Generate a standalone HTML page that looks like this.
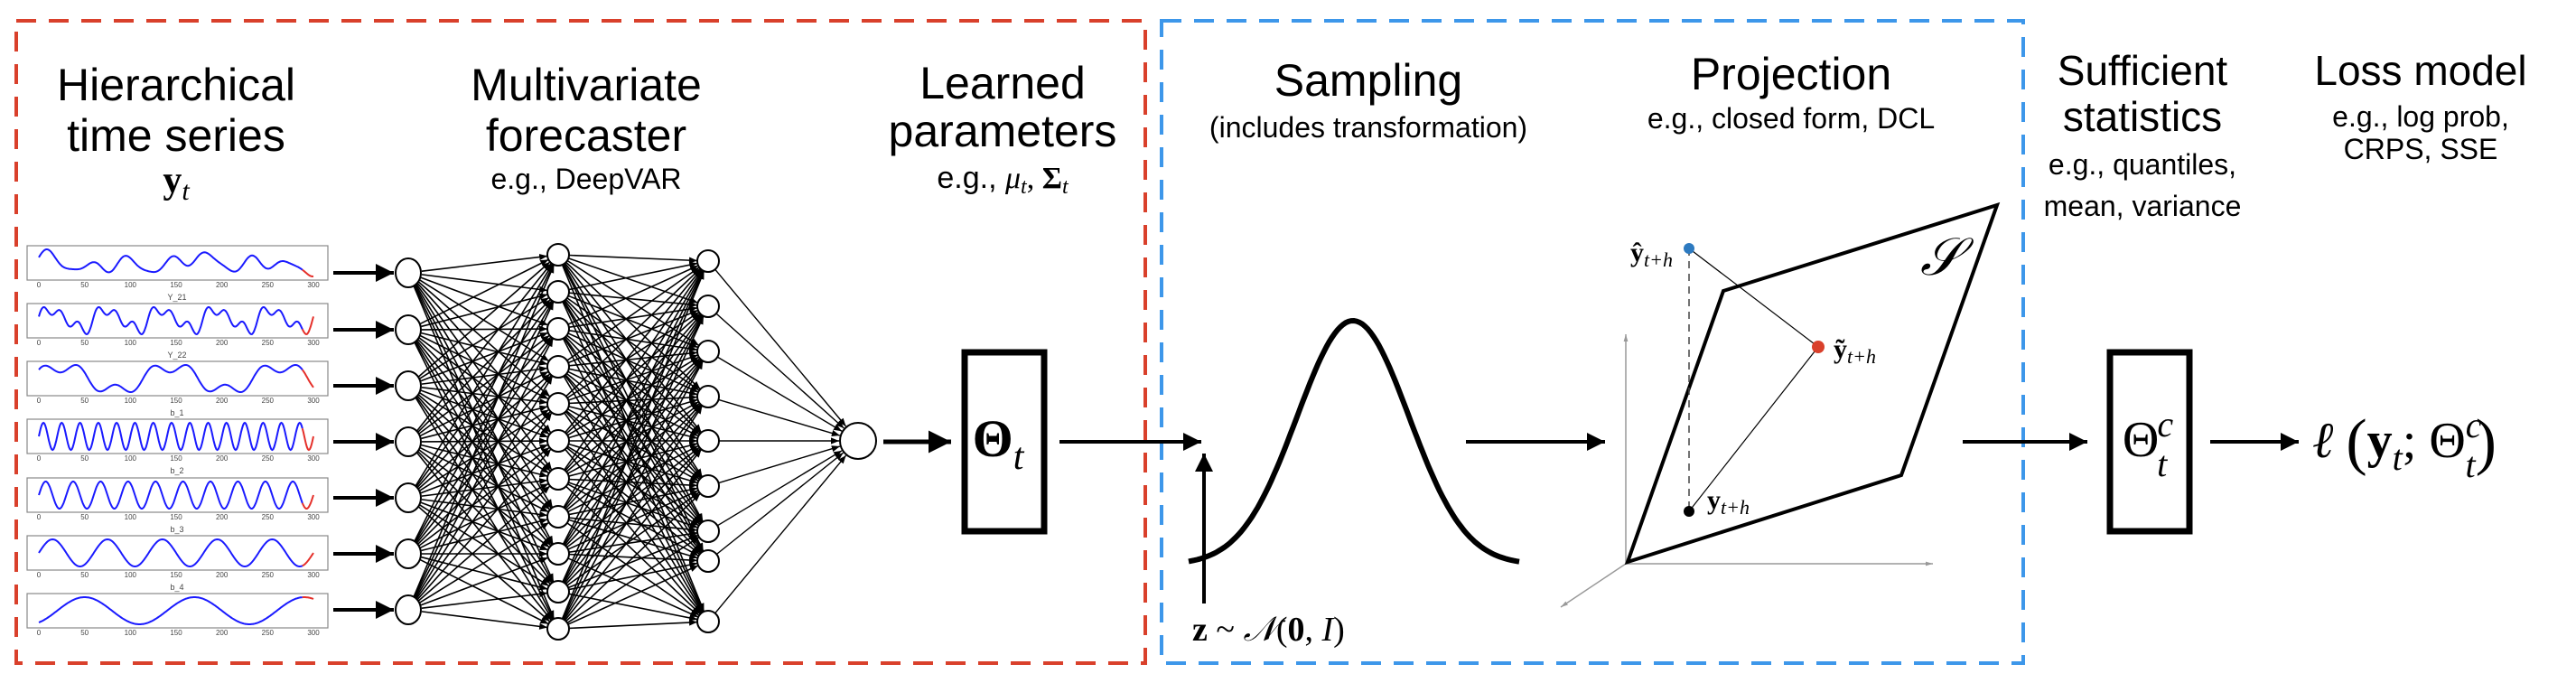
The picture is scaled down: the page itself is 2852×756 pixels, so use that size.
<!DOCTYPE html>
<html><head><meta charset="utf-8"><style>
html,body{margin:0;padding:0;background:#fff;}
svg{display:block;}
.s{font-family:"Liberation Sans",sans-serif;fill:#000;}
.m{font-family:"Liberation Serif",serif;fill:#000;}
</style></head><body>
<svg id="g" width="2852" height="756" viewBox="0 0 2852 756" xmlns="http://www.w3.org/2000/svg">
<defs>
<marker id="ah" viewBox="0 0 10 10" refX="10" refY="5" markerWidth="5" markerHeight="5" orient="auto" markerUnits="strokeWidth"><path d="M0,0 L10,5 L0,10 z" fill="#000"/></marker>
<marker id="as" viewBox="0 0 10 10" refX="10" refY="5" markerWidth="9" markerHeight="9" orient="auto" markerUnits="userSpaceOnUse"><path d="M0,1 L10,5 L0,9 z" fill="#000"/></marker>
<marker id="ag" viewBox="0 0 10 10" refX="10" refY="5" markerWidth="8" markerHeight="8" orient="auto" markerUnits="userSpaceOnUse"><path d="M0,2 L10,5 L0,8 z" fill="#999"/></marker>
</defs>
<!-- dashed boxes -->
<rect x="18" y="23" width="1250" height="711" fill="none" stroke="#d9402b" stroke-width="4" stroke-dasharray="22,14"/>
<rect x="1286" y="23" width="954" height="711" fill="none" stroke="#3d97ea" stroke-width="4" stroke-dasharray="22,14"/>

<!-- titles -->
<g class="s" text-anchor="middle" font-size="50">
<text x="195" y="111">Hierarchical</text>
<text x="195" y="167">time series</text>
<text x="649" y="111">Multivariate</text>
<text x="649" y="167">forecaster</text>
<text x="1110" y="109">Learned</text>
<text x="1110" y="162">parameters</text>
<text x="1515" y="106">Sampling</text>
<text x="1983" y="99">Projection</text>
<text x="2372" y="94" font-size="46">Sufficient</text>
<text x="2372" y="145" font-size="46">statistics</text>
<text x="2680" y="94" font-size="46">Loss model</text>
</g>
<g class="s" text-anchor="middle" font-size="32">
<text x="649" y="209">e.g., DeepVAR</text>
<text x="1515" y="152">(includes transformation)</text>
<text x="1983" y="142">e.g., closed form, DCL</text>
<text x="2372" y="193">e.g., quantiles,</text>
<text x="2372" y="239">mean, variance</text>
<text x="2680" y="140">e.g., log prob,</text>
<text x="2680" y="176">CRPS, SSE</text>
</g>
<text class="m" x="195" y="213" text-anchor="middle" font-size="42" font-weight="bold">y<tspan font-weight="normal" font-style="italic" font-size="30" dy="8">t</tspan></text>
<text x="1110" y="208" text-anchor="middle" font-size="34"><tspan class="s" font-family="Liberation Sans">e.g., </tspan><tspan font-family="Liberation Serif" font-style="italic">μ</tspan><tspan font-family="Liberation Serif" font-style="italic" font-size="24" dy="6">t</tspan><tspan font-family="Liberation Serif" dy="-6">, </tspan><tspan font-family="Liberation Serif" font-weight="bold">Σ</tspan><tspan font-family="Liberation Serif" font-style="italic" font-size="24" dy="6">t</tspan></text>

<g id="ts"></g>
<g id="nn"></g>

<!-- Theta box 1 -->
<line x1="978" y1="489" x2="1053" y2="489" stroke="#000" stroke-width="5" marker-end="url(#ah)"/>
<rect x="1068" y="390" width="88" height="198" fill="none" stroke="#000" stroke-width="7"/>
<text class="m" x="1105" y="505" text-anchor="middle" font-size="58" font-weight="bold">Θ<tspan font-weight="normal" font-style="italic" font-size="42" dy="14">t</tspan></text>
<line x1="1173" y1="489" x2="1330" y2="489" stroke="#000" stroke-width="4" marker-end="url(#ah)"/>
<line x1="1333" y1="668" x2="1333" y2="502" stroke="#000" stroke-width="4" marker-end="url(#ah)"/>
<path id="gauss" fill="none" stroke="#000" stroke-width="6"/>
<text class="m" x="1320" y="709" font-size="38"><tspan font-weight="bold">z</tspan> ~ <tspan font-style="italic">𝒩</tspan>(<tspan font-weight="bold">0</tspan>, <tspan font-style="italic">I</tspan>)</text>
<line x1="1623" y1="489" x2="1777" y2="489" stroke="#000" stroke-width="4" marker-end="url(#ah)"/>

<!-- projection -->
<line x1="1800" y1="624" x2="1800" y2="370" stroke="#999" stroke-width="1.5" marker-end="url(#ag)"/>
<line x1="1800" y1="624" x2="2140" y2="624" stroke="#999" stroke-width="1.5" marker-end="url(#ag)"/>
<line x1="1800" y1="624" x2="1728" y2="672" stroke="#999" stroke-width="1.5" marker-end="url(#ag)"/>
<polygon points="1908,322 2211,227 2105,526 1802,622" fill="none" stroke="#000" stroke-width="4"/>
<line x1="1870" y1="275" x2="1870" y2="566" stroke="#444" stroke-width="1.5" stroke-dasharray="8,6"/>
<line x1="1870" y1="275" x2="2013" y2="384" stroke="#000" stroke-width="1.2"/>
<line x1="2013" y1="384" x2="1870" y2="566" stroke="#000" stroke-width="1.2"/>
<circle cx="1870" cy="275" r="6" fill="#2d7ac0"/>
<circle cx="2013" cy="384" r="7" fill="#d9402b"/>
<circle cx="1870" cy="566" r="6" fill="#000"/>
<text class="m" x="1805" y="289" font-size="30" font-weight="bold">ŷ<tspan font-weight="normal" font-style="italic" font-size="22" dy="6">t+h</tspan></text>
<text class="m" x="2030" y="396" font-size="30" font-weight="bold">ỹ<tspan font-weight="normal" font-style="italic" font-size="22" dy="6">t+h</tspan></text>
<text class="m" x="1890" y="563" font-size="30" font-weight="bold">y<tspan font-weight="normal" font-style="italic" font-size="22" dy="6">t+h</tspan></text>
<text class="m" x="2126" y="304" font-size="58" font-style="italic">𝒮</text>

<line x1="2173" y1="489" x2="2311" y2="489" stroke="#000" stroke-width="4" marker-end="url(#ah)"/>
<rect x="2336" y="390" width="88" height="198" fill="none" stroke="#000" stroke-width="7"/>
<text class="m" x="2378" y="505" text-anchor="middle" font-size="56">Θ<tspan font-style="italic" font-size="40" dx="-2" dy="-22">c</tspan><tspan font-style="italic" font-size="40" dx="-18" dy="44">t</tspan></text>
<line x1="2447" y1="489" x2="2545" y2="489" stroke="#000" stroke-width="4" marker-end="url(#ah)"/>
<text class="m" x="2560" y="506" font-size="56"><tspan font-style="italic">ℓ</tspan> <tspan font-size="70" dy="6">(</tspan><tspan font-weight="bold" dy="-6">y</tspan><tspan font-style="italic" font-size="40" dy="14">t</tspan><tspan dy="-14">; Θ</tspan><tspan font-style="italic" font-size="40" dy="-22">c</tspan><tspan font-style="italic" font-size="40" dx="-18" dy="44">t</tspan><tspan font-size="70" dy="-16">)</tspan></text>
</svg>
<script>
(function(){
var NS="http://www.w3.org/2000/svg";
function el(p,t,a,txt){var e=document.createElementNS(NS,t);for(var k in a)e.setAttribute(k,a[k]);if(txt!==undefined)e.textContent=txt;p.appendChild(e);return e;}
// gaussian
var d="";for(var i=0;i<=120;i++){var x=1316+i*(366/120);var u=(x-1498)/62;var y=625-270*Math.exp(-u*u/2);d+=(i?"L":"M")+x.toFixed(1)+","+y.toFixed(1);}
document.getElementById("gauss").setAttribute("d",d);
// time series
var ts=document.getElementById("ts");
var tops=[272,336,400,464,529,593,657];
var titles=["Y_21","Y_22","b_1","b_2","b_3","b_4"];
var fns=[
function(t){return Math.sin(t/7)+0.7*Math.sin(t/13+1)+0.5*Math.sin(t/31+2)+0.4*Math.sin(t/4.5);},
function(t){return Math.sin(2*Math.PI*t/60)+0.6*Math.sin(2*Math.PI*t/20+0.5)+0.3*Math.sin(2*Math.PI*t/30);},
function(t){return Math.sin(2*Math.PI*t/120+0.3)+0.5*Math.sin(2*Math.PI*t/40+1);},
function(t){return Math.sin(2*Math.PI*t/20);},
function(t){return Math.sin(2*Math.PI*t/30);},
function(t){return Math.sin(2*Math.PI*t/60);},
function(t){return -Math.cos(2*Math.PI*(t-50)/120)*-1;}
];
for(var r=0;r<7;r++){
 var T=tops[r];
 el(ts,"rect",{x:30,y:T,width:333,height:38,fill:"none",stroke:"#888","stroke-width":1.2});
 var vals=[],mn=1e9,mx=-1e9;
 for(var t=0;t<=300;t+=1){var v=fns[r](t);vals.push(v);mn=Math.min(mn,v);mx=Math.max(mx,v);}
 var pb="",pr="";
 for(var t=0;t<=300;t++){var x=43+t*(304/300);var y=T+34-(vals[t]-mn)/(mx-mn)*30;var s=x.toFixed(1)+","+y.toFixed(1);
  if(t<=288)pb+=(t?"L":"M")+s;if(t>=288)pr+=(t==288?"M":"L")+s;}
 el(ts,"path",{d:pb,fill:"none",stroke:"#1a1aff","stroke-width":2});
 el(ts,"path",{d:pr,fill:"none",stroke:"#e5302a","stroke-width":2});
 var labs=[0,50,100,150,200,250,300];
 for(var k=0;k<7;k++)el(ts,"text",{x:43+labs[k]*304/300,y:T+46,"font-size":8,"text-anchor":"middle",fill:"#444","font-family":"Liberation Sans"},String(labs[k]));
 if(r<6)el(ts,"text",{x:196,y:T+60,"font-size":9,"text-anchor":"middle",fill:"#444","font-family":"Liberation Sans"},titles[r]);
}
// NN
var nn=document.getElementById("nn");
var inY=[302,365,427,489,551,613,675];
var h1=[282,323,364,406,447,488,530,572,613,655,696];
var h2=[289,339,389,439,488,538,588,621,688];
var g1=el(nn,"g",{stroke:"#000","stroke-width":1.5});
for(var i=0;i<7;i++){el(nn,"line",{x1:369,y1:inY[i],x2:436,y2:inY[i],stroke:"#000","stroke-width":4,"marker-end":"url(#ah)"});}
function conn(ax,ay,bx,by,ra,rb,w){var dx=bx-ax,dy=by-ay,L=Math.sqrt(dx*dx+dy*dy);
 el(nn,"line",{x1:ax+dx/L*ra,y1:ay+dy/L*ra,x2:bx-dx/L*rb,y2:by-dy/L*rb,stroke:"#000","stroke-width":w,"marker-end":"url(#as)"});}
for(var i=0;i<7;i++)for(var j=0;j<11;j++)conn(452,inY[i],618,h1[j],15,12,1.6);
for(var i=0;i<11;i++)for(var j=0;j<9;j++)conn(618,h1[i],784,h2[j],12,12,1.6);
for(var j=0;j<9;j++)conn(784,h2[j],950,488,12,21,1.4);
for(var i=0;i<7;i++)el(nn,"ellipse",{cx:452,cy:inY[i],rx:14,ry:16,fill:"#fff",stroke:"#000","stroke-width":2});
for(var i=0;i<11;i++)el(nn,"ellipse",{cx:618,cy:h1[i],rx:12,ry:12,fill:"#fff",stroke:"#000","stroke-width":2});
for(var i=0;i<9;i++)el(nn,"ellipse",{cx:784,cy:h2[i],rx:12,ry:12,fill:"#fff",stroke:"#000","stroke-width":2});
el(nn,"circle",{cx:950,cy:488,r:20,fill:"#fff",stroke:"#000","stroke-width":2});
})();
</script>
</body></html>
